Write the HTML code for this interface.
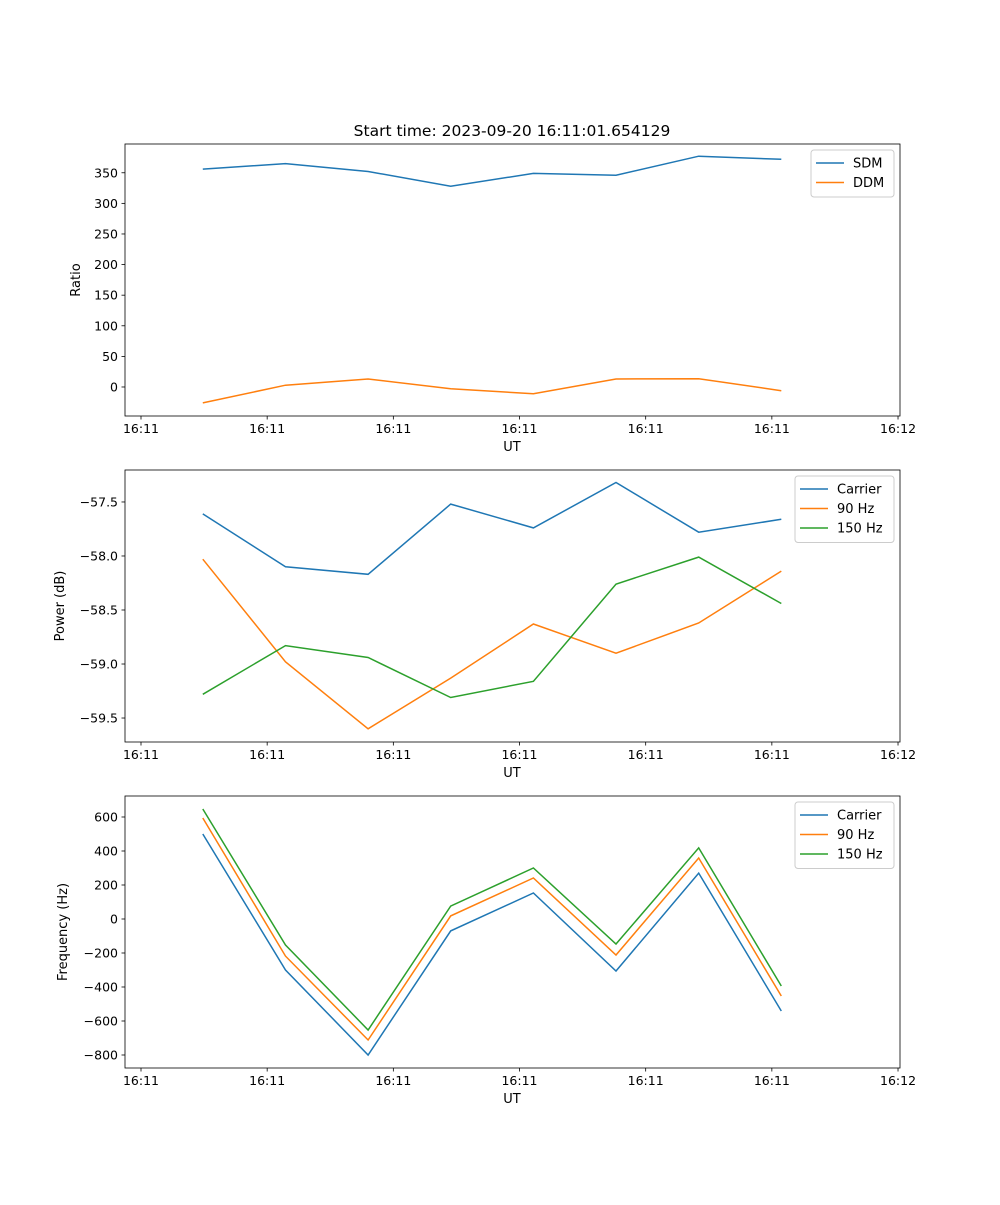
<!DOCTYPE html>
<html><head><meta charset="utf-8"><style>
body{margin:0;background:#fff}
svg text{font-family:"DejaVu Sans","Liberation Sans",sans-serif;fill:#000}
</style></head><body>
<svg id="fig" width="1000" height="1200" xmlns="http://www.w3.org/2000/svg">
<text x="512" y="136" font-size="15.5" text-anchor="middle">Start time: 2023-09-20 16:11:01.654129</text>
</svg>
<script>
// seconds after 16:11:00
const times = [4.9, 11.45, 18.0, 24.55, 31.1, 37.65, 44.2, 50.75];
const xTicks = [0, 10, 20, 30, 40, 50, 60];
const xTickLabels = ["16:11","16:11","16:11","16:11","16:11","16:11","16:12"];
const sdm = [356, 365, 352, 328, 349, 346, 377, 372];
const ddm = [-26, 3, 13, -3, -11, 13, 13.5, -6];
const powCarrier = [-57.61, -58.10, -58.17, -57.52, -57.74, -57.32, -57.78, -57.66];
const pow90 = [-58.03, -58.98, -59.60, -59.13, -58.63, -58.90, -58.62, -58.14];
const pow150 = [-59.28, -58.83, -58.94, -59.31, -59.16, -58.26, -58.01, -58.44];
const freqCarrier = [500, -300, -800, -70, 153, -306, 270, -541];
const freq90 = [594, -218, -712, 18, 241, -212, 359, -453];
const freq150 = [647, -153, -653, 76, 300, -147, 418, -394];
const ratioTicks = [0, 50, 100, 150, 200, 250, 300, 350];
const powTicks = [-59.5, -59.0, -58.5, -58.0, -57.5];
const freqTicks = [-800, -600, -400, -200, 0, 200, 400, 600];

const NS = "http://www.w3.org/2000/svg";
const svg = document.getElementById('fig');
const C = {b:'#1f77b4', o:'#ff7f0e', g:'#2ca02c'};
function mk(tag, attrs, parent){const e=document.createElementNS(NS,tag);for(const k in attrs)e.setAttribute(k,attrs[k]);(parent||svg).appendChild(e);return e;}

function panel(p){
  const L=125,R=900,T=p.top,B=p.top+272;
  const xs=v=>141+(v/10)*126.17;
  const ys=v=>B-(v-p.ymin)/(p.ymax-p.ymin)*(B-T);
  const g=mk('g',{});
  
  
  p.series.forEach(s=>{
    const d=s.vals.map((v,i)=>(i?'L':'M')+xs(times[i]).toFixed(1)+','+ys(v).toFixed(1)).join(' ');
    const path=mk('path',{d:d,fill:'none',stroke:s.c,'stroke-width':1.5},g);
    
    
  });
  mk('rect',{x:L,y:T,width:R-L,height:B-T,fill:'none',stroke:'#000','stroke-width':0.8},g);
  xTicks.forEach((t,i)=>{const x=xs(t);
    mk('line',{x1:x,x2:x,y1:B,y2:B+3.5,stroke:'#000','stroke-width':0.8},g);
    const tx=mk('text',{x:x,y:B+17,'font-size':12.5,'text-anchor':'middle'},g);tx.textContent=xTickLabels[i];
    
    
  });
  p.ticks.forEach(t=>{const y=ys(t);
    mk('line',{x1:L,x2:L-3.5,y1:y,y2:y,stroke:'#000','stroke-width':0.8},g);
    const tx=mk('text',{x:L-7,y:y+4.5,'font-size':12.5,'text-anchor':'end'},g);
    tx.textContent=(p.fmt?p.fmt(t):String(t)).replace('-','\u2212');
    
    
  });
  const xl=mk('text',{x:512,y:B+35,'font-size':13,'text-anchor':'middle'},g);xl.textContent='UT';
  
  
  const yl=mk('text',{x:0,y:0,'font-size':13,'text-anchor':'middle',transform:`translate(${p.ylx},${(T+B)/2}) rotate(-90)`},g);yl.textContent=p.ylabel;
  
  
  // legend
  const lw=p.legW, lh=8+p.series.length*19.5, lx=R-6-lw, ly=T+6;
  const lg=mk('g',{},g);
  
  
  mk('rect',{x:lx,y:ly,width:lw,height:lh,rx:3,fill:'#fff','fill-opacity':0.8,stroke:'#ccc'},lg);
  p.series.forEach((s,i)=>{const yy=ly+13+i*19.5;
    mk('line',{x1:lx+5,x2:lx+33,y1:yy,y2:yy,stroke:s.c,'stroke-width':1.5},lg);
    const t=mk('text',{x:lx+42,y:yy+4.5,'font-size':13},lg);t.textContent=s.label;
    
    
  });
}
panel({name:'ratio-panel',top:144,ymin:-47.4,ymax:397,ticks:ratioTicks,ylabel:'Ratio',ylx:80,legW:83,
  series:[{id:'sdm',label:'SDM',c:C.b,vals:sdm},{id:'ddm',label:'DDM',c:C.o,vals:ddm}]});
panel({name:'power-panel',top:470,ymin:-59.722,ymax:-57.204,ticks:powTicks,ylabel:'Power (dB)',ylx:64,legW:99,fmt:v=>v.toFixed(1),
  series:[{id:'carrier-power',label:'Carrier',c:C.b,vals:powCarrier},{id:'90hz-power',label:'90 Hz',c:C.o,vals:pow90},{id:'150hz-power',label:'150 Hz',c:C.g,vals:pow150}]});
panel({name:'frequency-panel',top:796,ymin:-876.5,ymax:723.5,ticks:freqTicks,ylabel:'Frequency (Hz)',ylx:67,legW:99,
  series:[{id:'carrier-freq',label:'Carrier',c:C.b,vals:freqCarrier},{id:'90hz-freq',label:'90 Hz',c:C.o,vals:freq90},{id:'150hz-freq',label:'150 Hz',c:C.g,vals:freq150}]});
</script>
</body></html>
